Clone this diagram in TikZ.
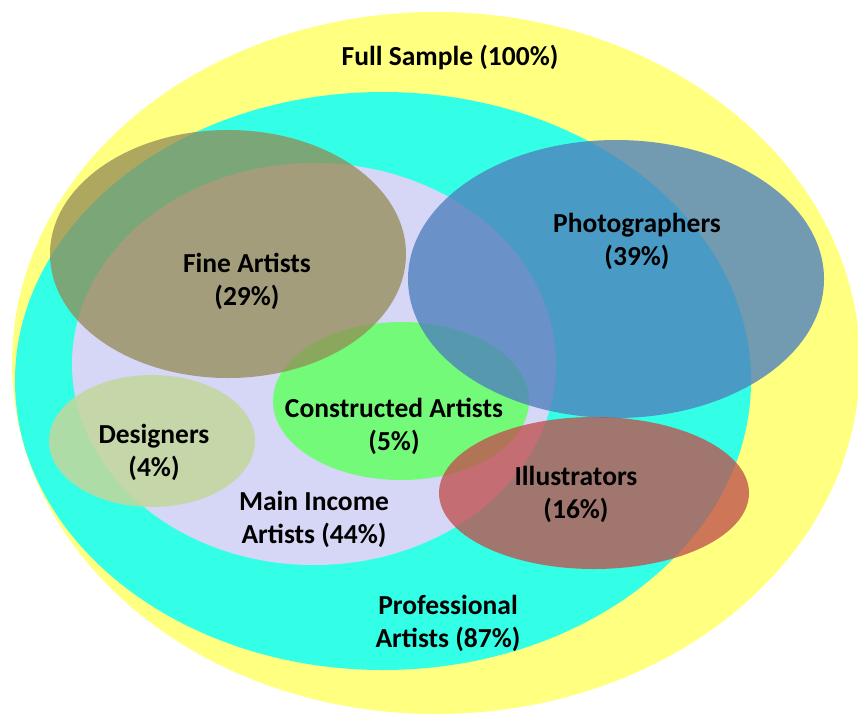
\documentclass[tikz,border=0pt]{standalone}
\usepackage{fontspec}
\setmainfont{Carlito}
\begin{document}
\begin{tikzpicture}[x=1pt,y=-1pt,
  label/.style={font=\bfseries\fontsize{27.5}{33}\selectfont, align=center, inner sep=0pt, text=black}]
\definecolor{fullcol}{HTML}{FFFF80}
\definecolor{procol}{HTML}{33FFE6}
\definecolor{maincol}{HTML}{D6D6F6}
\definecolor{finecol}{HTML}{948A54}
\definecolor{photocol}{HTML}{4F81BD}
\definecolor{conscol}{HTML}{73FA78}
\definecolor{designcol}{HTML}{C3D69B}
\definecolor{illucol}{HTML}{C0504D}
\useasboundingbox (0,0) rectangle (858,715);
\begin{scope}
\clip (0,0) rectangle (858,715);
% nested populations
\fill[fullcol] (436,363) ellipse [x radius=424, y radius=351];
\fill[procol] (383,381) ellipse [x radius=368, y radius=289];
\fill[maincol] (314,364) ellipse [x radius=242, y radius=201];
% overlapping groups
\fill[conscol] (401,401) ellipse [x radius=128, y radius=79];
\fill[designcol, fill opacity=0.85] (152,441) ellipse [x radius=103, y radius=66];
\fill[finecol, fill opacity=0.75] (228,254) ellipse [x radius=178, y radius=124];
\fill[photocol, fill opacity=0.8] (616,279) ellipse [x radius=208, y radius=139];
\fill[illucol, fill opacity=0.78] (594,493) ellipse [x radius=155, y radius=76];
\end{scope}
% labels
\node[label] (full) at (450,57) {Full Sample (100\%)};
\node[label] (fine) at (247,281) {Fine Artists\\(29\%)};
\node[label] (photo) at (637,241) {Photographers\\(39\%)};
\node[label] (cons) at (394,426) {Constructed Artists\\(5\%)};
\node[label] (design) at (154,452) {Designers\\(4\%)};
\node[label] (main) at (314,519) {Main Income\\Artists (44\%)};
\node[label] (illu) at (576,494) {Illustrators\\(16\%)};
\node[label] (pro) at (448,623) {Professional\\Artists (87\%)};
\end{tikzpicture}
\end{document}
